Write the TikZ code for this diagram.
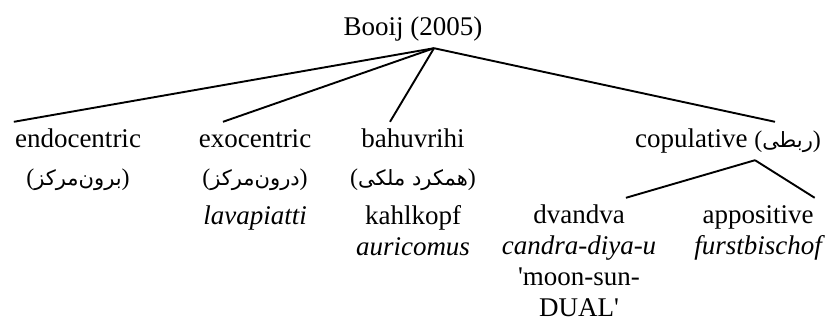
\documentclass[tikz,border=0pt]{standalone}
\usepackage{fontspec}
\setmainfont{Liberation Serif}
\newfontfamily\farsi[Script=Arabic]{DejaVu Sans}
\TeXXeTstate=1
\usetikzlibrary{positioning}

\tikzset{
  word/.style={inner xsep=1pt, inner ysep=7pt, text height=18pt, text depth=6pt,
               font=\fontsize{27}{31}\selectfont},
  gloss/.style={word, font=\fontsize{27}{31}\selectfont\itshape},
  branch/.style={line width=1.9pt},
}
\newcommand{\fa}[1]{{\fontsize{24}{28}\selectfont(\farsi\fontsize{21}{26}\selectfont\beginR #1\endR\fontsize{24}{28}\selectfont\rmfamily)}}

\begin{document}
\begin{tikzpicture}[x=1pt, y=1pt, node distance=31pt, on grid, every node/.style={word}]
  \useasboundingbox (0,0) rectangle (825,325);

  \node                          (root)    at (413,296) {Booij (2005)};
  \node                          (endo)    at (78,184)  {endocentric};
  \node[right=177pt of endo]     (exo)                  {exocentric};
  \node[right=158pt of exo]      (bahu)                 {bahuvrihi};
  \node[right=315pt of bahu]     (copu)                 {copulative \fa{ربطی}};

  \node[below=38pt of endo]      (endo_fa)              {\fa{برون‌مرکز}};
  \node[below=38pt of exo]       (exo_fa)               {\fa{درون‌مرکز}};
  \node[below=38pt of bahu]      (bahu_fa)              {\fa{همکرد ملکی}};
  \node[gloss, below=39pt of exo_fa]  (exo_ex)          {lavapiatti};
  \node[below=39pt of bahu_fa]   (bahu_ex)              {kahlkopf};
  \node[gloss, below of=bahu_ex] (bahu_la)              {auricomus};

  \node[below left=76pt and 149pt of copu] (dvan)       {dvandva};
  \node[right=179pt of dvan]     (appo)                 {appositive};
  \node[gloss, below of=dvan]    (dvan_ex)              {candra-diya-u};
  \node[below of=dvan_ex]        (dvan_gl)              {\textquotesingle moon-sun-};
  \node[below of=dvan_gl]        (dvan_gl2)             {DUAL\textquotesingle};
  \node[gloss, below of=appo]    (appo_ex)              {furstbischof};

  % branching points
  \coordinate (fork)      at ([xshift=21pt]root.south);
  \coordinate (copu_fork) at ([xshift=27pt]copu.south);

  \draw[branch]
      (fork) edge (endo.north west)
      (fork) edge ([xshift=-32pt]exo.north)
      (fork) edge ([xshift=-23pt]bahu.north)
      (fork) edge ([xshift=47pt]copu.north)
      (copu_fork) edge (dvan.north east)
      (copu_fork) edge (appo.north east)
      ;
\end{tikzpicture}
\end{document}
